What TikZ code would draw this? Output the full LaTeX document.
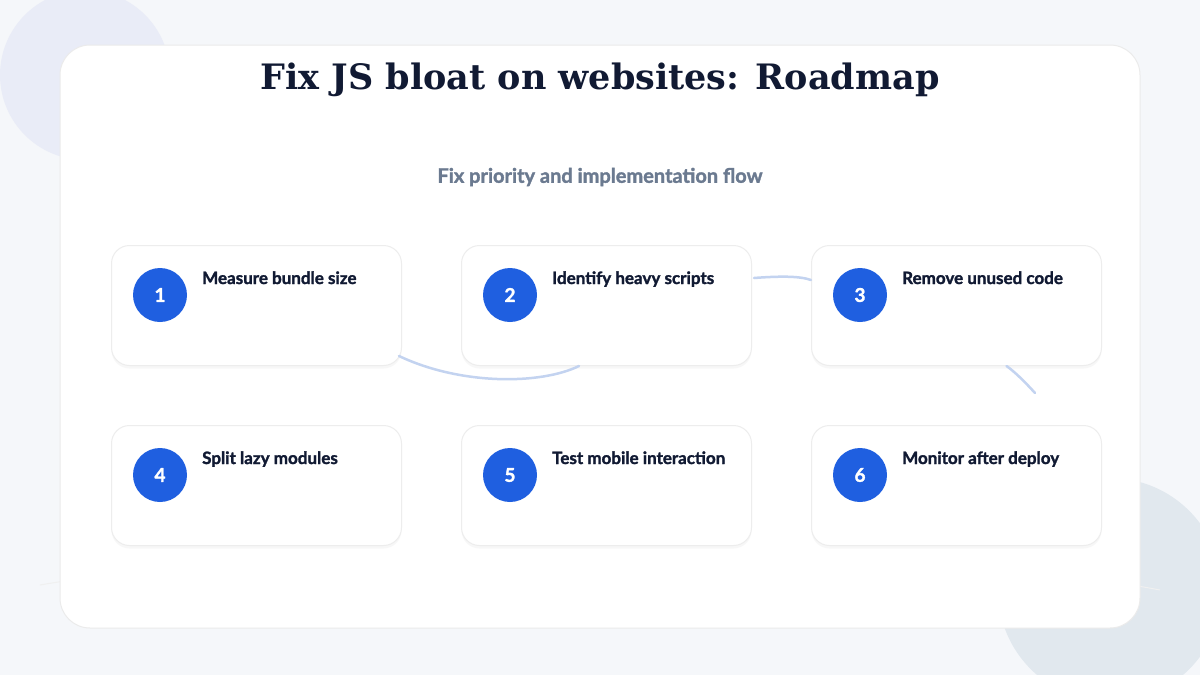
\documentclass[tikz,border=0pt]{standalone}
\usepackage{fontspec}
\setmainfont{DejaVu Serif}
\newfontfamily\lab[BoldFeatures={FakeBold=1.6}]{Lato}
\usetikzlibrary{shadows,calc}
\definecolor{bg}{HTML}{F5F7FA}
\definecolor{navy}{HTML}{111A33}
\definecolor{sub}{HTML}{6B7A90}
\definecolor{blu}{HTML}{1F5FE0}
\definecolor{conn}{HTML}{C3D3F0}
\definecolor{circa}{HTML}{E9ECF7}
\definecolor{circb}{HTML}{E1E8EE}
\tikzset{
  card/.style={draw=black!8, fill=white, rounded corners=30pt, line width=1pt},
  stepbox/.style={draw=black!7, fill=white, rounded corners=18pt, minimum width=290pt, minimum height=120pt, anchor=north west, line width=1pt, drop shadow={shadow xshift=0pt, shadow yshift=-3pt, opacity=0.06}},
  num/.style={circle, fill=blu, minimum size=54pt, inner sep=0pt, text=white, font=\lab\bfseries\fontsize{19}{19}\selectfont},
  lbl/.style={anchor=base west, text=navy, font=\lab\bfseries\fontsize{17}{20}\selectfont, inner sep=0pt},
  link/.style={draw=conn, line width=2.5pt, line cap=round}
}
\begin{document}
\begin{tikzpicture}[x=1pt,y=-1pt]
\fill[bg] (0,0) rectangle (1200,675);
\useasboundingbox (0,0) rectangle (1200,675);
\fill[circa] (85,75) circle (85);
\fill[circb] (1110,590) circle (112);
\draw[black!6, line width=1pt] (40,585) .. controls (300,540) and (900,540) .. (1160,590);
\filldraw[card] (60,45) rectangle (1140,628);
\node[font=\bfseries\fontsize{35}{37}\selectfont, text=navy] (title) at (600,80) {Fix JS bloat on websites: Roadmap};
\node[font=\lab\bfseries\fontsize{20}{22}\selectfont, text=sub] (subt) at (600,177) {Fix priority and implementation flow};
\node[stepbox] (b1) at (111,245) {};
\node[stepbox] (b2) at (461,245) {};
\node[stepbox] (b3) at (811,245) {};
\node[stepbox] (b4) at (111,425) {};
\node[stepbox] (b5) at (461,425) {};
\node[stepbox] (b6) at (811,425) {};
\coordinate (e3) at (1035,393);
\draw[link] ($(b1.south east)+(-3,-10)$) .. controls (460,385) and (540,385) .. ($(b2.south west)+(118,0)$);
\draw[link] ($(b2.north east)+(2,33)$) .. controls (780,276) and (800,276) .. ($(b3.north west)+(0,35)$);
\draw[link] ($(b3.south)+(50,0)$) .. controls (1015,372) and (1025,382) .. (e3);
\foreach \i/\t in {1/Measure bundle size,2/Identify heavy scripts,3/Remove unused code,4/Split lazy modules,5/Test mobile interaction,6/Monitor after deploy}{
  \node[num] (n\i) at ($(b\i.north west)+(49,50)$) {\i};
  \node[lbl] (l\i) at ($(b\i.north west)+(91,39)$) {\t};
}
\end{tikzpicture}
\end{document}
